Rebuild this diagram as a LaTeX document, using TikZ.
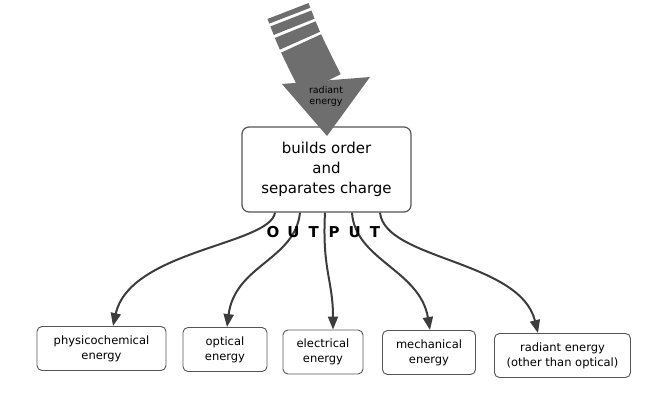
\documentclass[tikz,border=0pt]{standalone}
\usepackage{fontspec}
\setmainfont{DejaVu Sans}
\usetikzlibrary{arrows.meta}
\definecolor{linegray}{HTML}{3C3C3C}
\definecolor{boxgray}{HTML}{555555}
\definecolor{bigarrow}{HTML}{6E6E6E}

\begin{document}
\begin{tikzpicture}[x=1pt,y=-1pt,
    mainbox/.style={draw=boxgray,fill=white,line width=1.2pt,rounded corners=7pt,
      minimum width=169pt,minimum height=85pt,inner sep=0pt,align=center,
      font=\fontsize{15}{20}\selectfont},
    outbox/.style={draw=boxgray,fill=white,line width=0.9pt,rounded corners=5pt,
      minimum height=44pt,inner sep=0pt,align=center,
      font=\fontsize{11.5}{15}\selectfont},
    feed/.style={draw=linegray,line width=2pt,-{Triangle[length=13pt,width=10pt]}}]
    \useasboundingbox (0,0) rectangle (665,412);

    \node[mainbox] (main) at (326.5,169.5) {builds order\\and\\separates charge};

    \node[outbox,minimum width=129pt] (b1) at (101.5,348.5) {physicochemical\\energy};
    \node[outbox,minimum width=84pt] (b2) at (225,349.5) {optical\\energy};
    \node[outbox,minimum width=80pt] (b3) at (323,352) {electrical\\energy};
    \node[outbox,minimum width=93pt] (b4) at (429,352.5) {mechanical\\energy};
    \node[outbox,minimum width=136pt] (b5) at (562.5,355.5) {radiant energy\\(other than optical)};

    % incoming radiant energy
    \draw[bigarrow,line width=44pt,dash pattern=on 5pt off 3pt on 9pt off 3pt on 12pt off 3pt on 80pt]
        (288,11) .. controls (300,42) .. (321,84);
    \fill[bigarrow] (282,84) -- (370,77) -- (327,136) -- cycle;
    \node[font=\fontsize{9.5}{11}\selectfont,align=center] (rad) at (326,96) {radiant\\energy};

    % outputs
    \draw[feed] ([xshift=-51.5pt]main.south) .. controls (270,245) and (130,250) .. ([xshift=11.5pt]b1.north);
    \draw[feed] ([xshift=-26.5pt]main.south) .. controls (295,260) and (235,265) .. ([xshift=2pt]b2.north);
    \draw[feed] ([xshift=-1.5pt]main.south) .. controls (322,270) and (333,280) .. ([xshift=10pt]b3.north);
    \draw[feed] ([xshift=25.5pt]main.south) .. controls (355,260) and (420,270) .. ([xshift=1pt]b4.north);
    \draw[feed] ([xshift=53.5pt]main.south) .. controls (385,260) and (520,260) .. ([xshift=-24.5pt]b5.north);

    \foreach \l [count=\i] in {O,U,T,P,U,T}
        \node[font=\fontsize{15}{15}\selectfont\bfseries,inner sep=0pt] (out\i) at (252.6+20.4*\i,232) {\l};
\end{tikzpicture}
\end{document}
